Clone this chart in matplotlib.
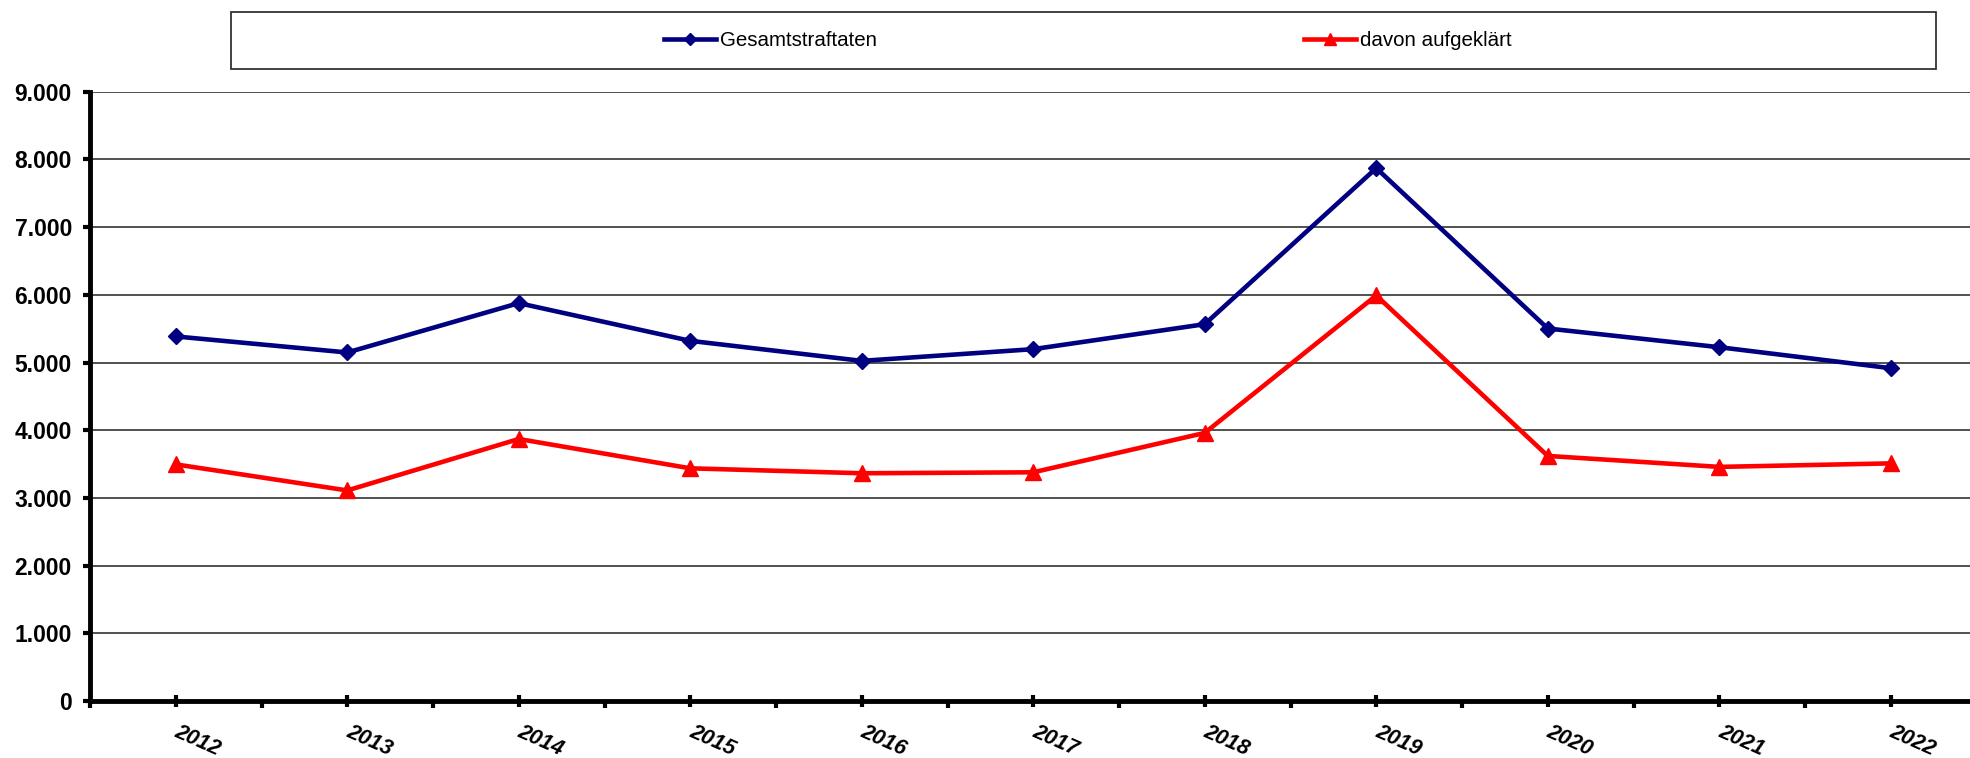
import matplotlib
matplotlib.use("Agg")
import matplotlib.pyplot as plt
from matplotlib.ticker import FuncFormatter, FixedLocator
from matplotlib.patches import Rectangle
from matplotlib.transforms import ScaledTranslation

# data
years = ["2012", "2013", "2014", "2015", "2016", "2017",
         "2018", "2019", "2020", "2021", "2022"]
gesamt = [5385, 5148, 5877, 5320, 5024, 5197, 5566, 7871, 5502, 5226, 4916]
aufgeklaert = [3495, 3110, 3870, 3437, 3364, 3378, 3960, 5990, 3620, 3458, 3510]

plt.rcParams["font.family"] = ["Liberation Sans", "DejaVu Sans"]

fig = plt.figure(figsize=(19.7, 7.58), dpi=100)
# plot area runs past the right edge, like the original
ax = fig.add_axes([90 / 1970, 57 / 758, 1886.5 / 1970, 609.3 / 758])

x = list(range(len(years)))
ax.plot(x, gesamt, color="#000080", lw=3.3, marker="D", ms=8,
        label="Gesamtstraftaten", clip_on=False, zorder=3)
ax.plot(x, aufgeklaert, color="#FF0000", lw=3.3, marker="^", ms=11,
        label="davon aufgeklärt", clip_on=False, zorder=3)

ax.set_xlim(-0.5, len(years) - 0.5)
ax.set_ylim(0, 9000)

# y axis
ax.set_yticks(range(0, 9001, 1000))
ax.yaxis.set_major_formatter(FuncFormatter(lambda v, p: f"{int(v):,}".replace(",", ".")))
ax.tick_params(axis="y", direction="out", length=5, width=3, pad=8,
               labelsize=16.5)
for lab in ax.get_yticklabels():
    lab.set_fontweight("bold")
ax.grid(axis="y", color="#333333", lw=1.2, zorder=0)

# x axis: ticks on categories, minor ticks on boundaries
ax.set_xticks(x)
ax.set_xticklabels(years, rotation=-24, ha="left", fontsize=15.5,
                   fontweight="bold", fontstyle="italic")
ax.xaxis.set_minor_locator(FixedLocator([i - 0.5 for i in range(len(years) + 1)]))
ax.tick_params(axis="x", which="major", direction="inout", length=9, width=3, pad=10)
ax.tick_params(axis="x", which="minor", direction="out", length=5, width=3)
shift = ScaledTranslation(-4 / 100, 0, fig.dpi_scale_trans)
for lab in ax.get_xticklabels():
    lab.set_transform(lab.get_transform() + shift)

for s in ["top", "right"]:
    ax.spines[s].set_visible(False)
ax.spines["left"].set_linewidth(3.5)
ax.spines["bottom"].set_linewidth(3.5)

# legend box at the top
fig.patches.append(Rectangle((231 / 1970, 1 - 69 / 758), 1705 / 1970, 57 / 758,
                             transform=fig.transFigure, facecolor="white",
                             edgecolor="#333333", lw=1.3))
fig.legend(loc="center", bbox_to_anchor=(1088 / 1970, 1 - 41 / 758), ncol=2,
           frameon=False, fontsize=14.8, handlelength=2.5, handletextpad=0.2,
           columnspacing=20.8, markerscale=0.8)

fig.savefig("out.png", dpi=100)
